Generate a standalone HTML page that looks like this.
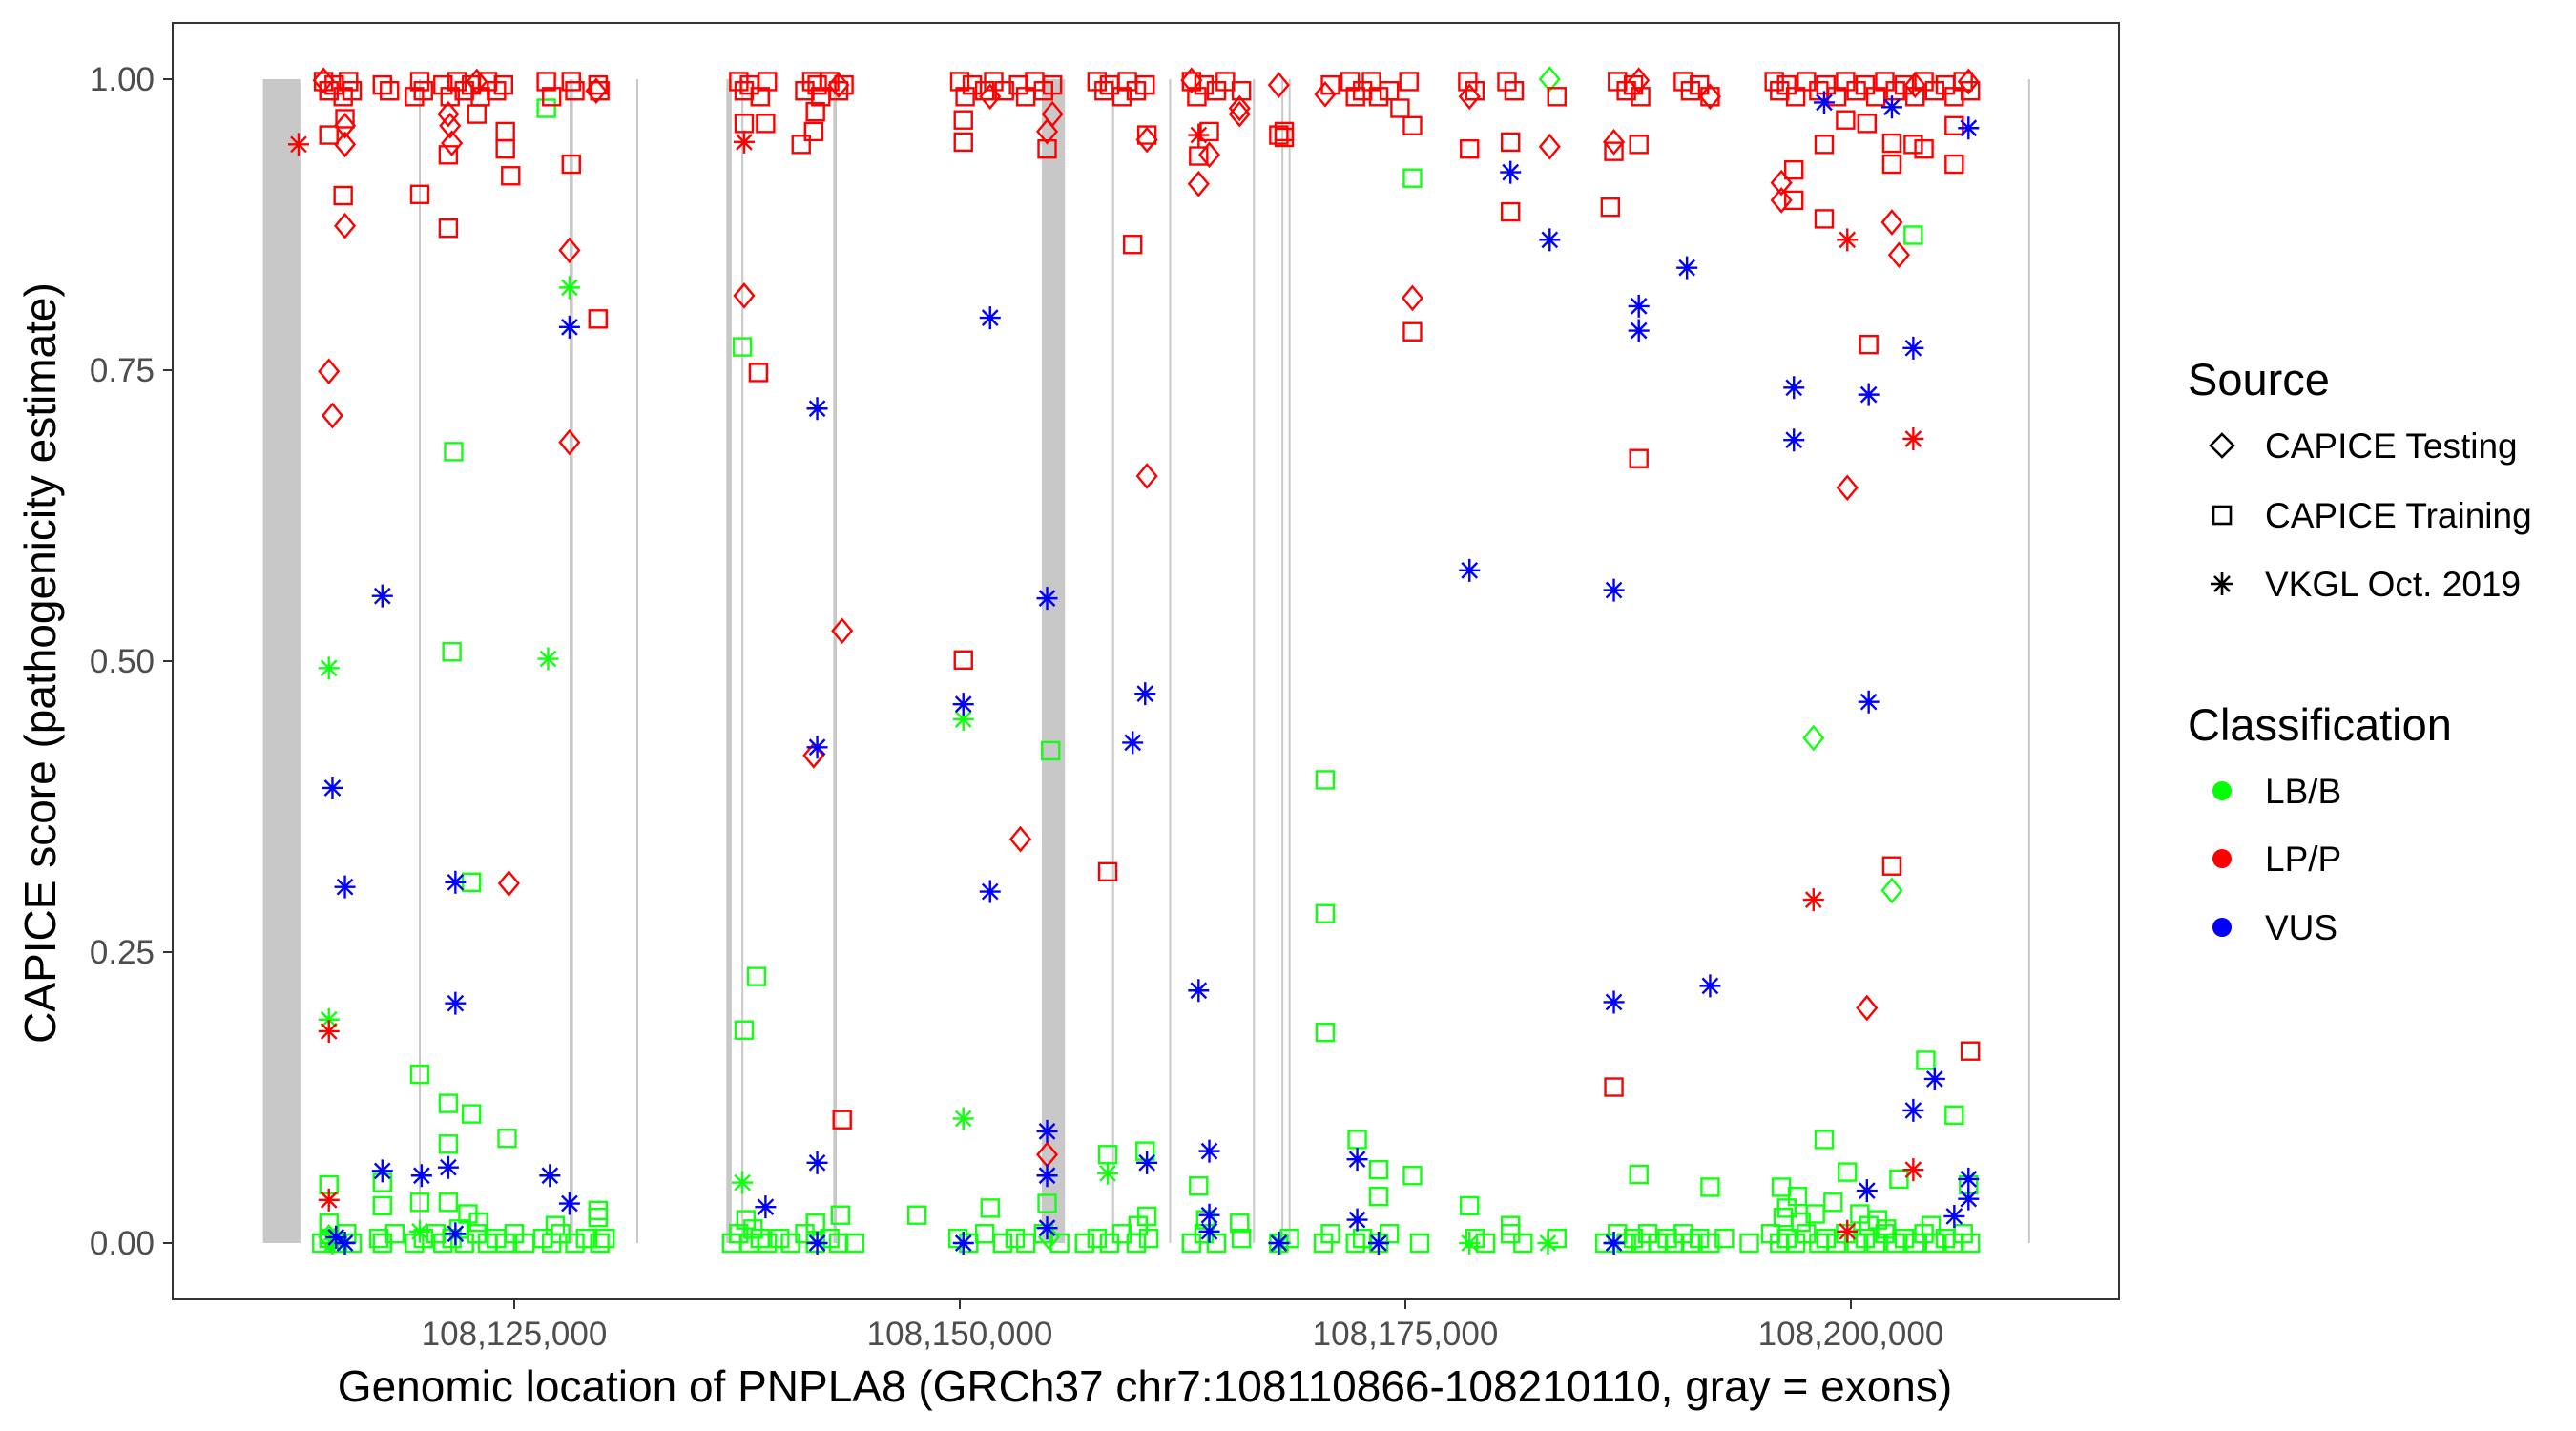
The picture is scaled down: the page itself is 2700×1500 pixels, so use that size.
<!DOCTYPE html>
<html><head><meta charset="utf-8"><title>PNPLA8 CAPICE</title>
<style>html,body{margin:0;padding:0;background:#fff}svg{display:block}text{font-family:"Liberation Sans",Arial,sans-serif}</style>
</head><body>
<svg id="chart" width="2700" height="1500" viewBox="0 0 2700 1500" xmlns="http://www.w3.org/2000/svg">
<rect x="0" y="0" width="2700" height="1500" fill="#fff"/>
<g id="exons"></g>
<g id="points"></g>
<rect x="181" y="24" width="2040" height="1338" fill="none" stroke="#333" stroke-width="2"/>
<g id="yaxis"></g>
<g id="xaxis"></g>
<text x="1200" y="1469" font-size="46" text-anchor="middle" fill="#000">Genomic location of PNPLA8 (GRCh37 chr7:108110866-108210110, gray = exons)</text>
<text transform="translate(58,695) rotate(-90)" font-size="46" text-anchor="middle" fill="#000">CAPICE score (pathogenicity estimate)</text>
<g id="legend">
<text x="2293" y="414" font-size="47" fill="#000">Source</text>
<path d="M2329 455 L2341 467 L2329 479 L2317 467 Z" fill="none" stroke="#000" stroke-width="2.6"/>
<text x="2374" y="480" font-size="37" fill="#000">CAPICE Testing</text>
<rect x="2320" y="531" width="18" height="18" fill="none" stroke="#000" stroke-width="2.6"/>
<text x="2374" y="553" font-size="37" fill="#000">CAPICE Training</text>
<path d="M2329 600 V624 M2317 612 H2341 M2321 604 L2337 620 M2337 604 L2321 620" stroke="#000" stroke-width="2.6"/>
<text x="2374" y="625" font-size="37" fill="#000">VKGL Oct. 2019</text>
<text x="2293" y="776" font-size="47" fill="#000">Classification</text>
<circle cx="2329" cy="829" r="10" fill="#00ff00"/>
<text x="2374" y="842" font-size="37" fill="#000">LB/B</text>
<circle cx="2329" cy="900" r="10" fill="#ff0000"/>
<text x="2374" y="913" font-size="37" fill="#000">LP/P</text>
<circle cx="2329" cy="972" r="10" fill="#0000ff"/>
<text x="2374" y="985" font-size="37" fill="#000">VUS</text>
</g>
</svg>
<script>
// positions are in kb offset from 108,000,000 (chr7)
const xTicks = [125, 150, 175, 200];
const xTickLabels = ["108,125,000", "108,150,000", "108,175,000", "108,200,000"];
const yTicks = [0, 0.25, 0.5, 0.75, 1];
const yTickLabels = ["0.00", "0.25", "0.50", "0.75", "1.00"];
const exonStarts = [110.9, 119.65, 128.1, 131.85, 136.9, 137.75, 142.9, 154.6, 158.55, 161.75, 166.45, 168.05, 168.45, 209.95];
const exonEnds   = [113.0, 119.75, 128.3, 131.95, 137.2, 137.85, 143.1, 155.9, 158.65, 161.85, 166.55, 168.15, 168.55, 210.05];

const trainingLP = [[114.3,.998],[114.6,.99],[114.9,.995],[115.4,.985],[115.7,.998],[115.9,.99],[117.6,.995],[118.0,.99],[119.4,.985],[119.7,.998],[119.9,.99],[121.0,.995],[121.4,.985],[121.8,.998],[122.2,.99],[122.6,.995],[123.1,.985],[123.5,.998],[124.0,.99],[124.4,.995],[126.8,.998],[127.1,.985],[128.2,.998],[128.4,.99],[129.7,.995],[129.8,.99],[137.6,.998],[137.9,.99],[138.2,.995],[138.8,.985],[139.2,.998],[141.3,.99],[141.7,.998],[142.0,.995],[142.2,.985],[142.7,.998],[143.2,.99],[143.5,.995],[150.0,.998],[150.3,.985],[150.7,.995],[151.4,.99],[151.9,.998],[152.5,.99],[153.3,.995],[153.7,.985],[154.2,.998],[154.7,.99],[155.2,.995],[157.7,.998],[158.1,.99],[158.4,.995],[159.1,.985],[159.4,.998],[159.9,.99],[160.4,.995],[163.0,.998],[163.3,.985],[163.7,.995],[164.4,.99],[164.9,.998],[165.8,.99],[168.2,.95],[168.2,.955],[170.8,.995],[171.9,.998],[172.2,.985],[172.6,.99],[173.1,.998],[173.5,.985],[174.1,.99],[174.7,.975],[175.2,.998],[175.4,.96],[178.5,.998],[178.9,.99],[180.7,.998],[181.1,.99],[183.5,.985],[186.9,.998],[187.4,.99],[187.8,.995],[188.2,.985],[190.6,.998],[191.0,.99],[191.5,.995],[192.1,.985],[195.7,.998],[196.0,.99],[196.4,.995],[196.9,.985],[197.5,.998],[198.2,.99],[198.6,.995],[199.2,.985],[199.7,.998],[200.3,.99],[200.8,.995],[201.4,.985],[201.9,.998],[202.5,.99],[203.0,.995],[203.6,.985],[204.1,.998],[204.7,.99],[205.3,.995],[205.8,.985],[206.3,.998],[206.7,.99],
[114.6,.952],[115.5,.966],[115.4,.90],[119.7,.901],[121.3,.872],[121.3,.935],[122.9,.97],[124.8,.917],[124.5,.94],[124.5,.955],[128.2,.927],[129.7,.794],[137.9,.962],[138.7,.748],[139.1,.962],[141.1,.944],[141.8,.955],[141.9,.972],[143.4,.106],[150.2,.946],[150.2,.965],[150.2,.501],[154.9,.94],[159.7,.858],[160.5,.952],[158.3,.319],[163.4,.934],[164.0,.955],[167.9,.952],[175.4,.783],[178.6,.94],[180.9,.886],[180.9,.946],[186.5,.89],[186.7,.938],[186.7,.134],[188.1,.674],[188.1,.944],[196.8,.922],[196.8,.896],[198.5,.944],[198.5,.88],[200.9,.962],[201.0,.772],[202.3,.945],[202.3,.927],[202.3,.324],[203.5,.944],[205.8,.927],[206.7,.165],[205.8,.96],[204.1,.94],[199.7,.965]];

const testingLP = [[114.3,.999],[115.5,.944],[115.5,.874],[114.6,.749],[114.8,.711],[115.5,.96],[121.4,.96],[121.5,.945],[121.3,.97],[122.9,.998],[124.7,.309],[128.1,.853],[128.1,.688],[129.6,.99],[137.9,.814],[141.8,.419],[143.4,.526],[143.2,.995],[151.7,.985],[153.4,.347],[154.9,.955],[154.9,.076],[155.2,.97],[160.5,.948],[160.5,.659],[163.4,.91],[164.0,.935],[165.7,.975],[163.0,.999],[167.9,.995],[170.5,.987],[175.4,.812],[178.6,.985],[183.1,.942],[186.7,.946],[188.1,.999],[192.1,.985],[196.1,.896],[196.1,.911],[199.8,.649],[200.9,.202],[202.3,.877],[202.7,.849],[203.6,.995],[206.6,.998],[165.7,.97]];

const testingLB = [[183.1,1.0],[197.9,.434],[202.3,.303],[155.0,.005],[114.6,.005]];

const vkglLP = [[112.9,.944],[114.6,.182],[114.6,.037],[137.9,.946],[163.4,.952],[197.9,.295],[199.8,.862],[199.8,.01],[203.5,.691],[203.5,.063]];

const vkglLB = [[114.6,.494],[114.6,.192],[128.1,.821],[126.9,.502],[137.8,.052],[150.2,.45],[150.2,.107],[158.3,.06],[119.7,.01],[114.8,0],[168.0,0],[178.6,0],[183.0,0],[173.5,0],[114.9,.003],[186.7,0]];

const vkglVUS = [[114.8,.391],[115.5,.306],[117.6,.556],[117.6,.062],[119.8,.058],[121.7,.31],[121.7,.206],[121.3,.065],[127.0,.058],[128.1,.034],[128.1,.787],[139.1,.031],[142.0,.717],[142.0,.426],[142.0,.069],[142.0,0],[150.2,.463],[151.7,.795],[151.7,.302],[150.2,0],[154.9,.554],[154.9,.096],[154.9,.058],[154.9,.013],[159.7,.43],[160.4,.472],[160.5,.069],[163.4,.217],[164.0,.079],[164.0,.024],[164.0,.01],[172.3,.072],[172.3,.02],[173.5,0],[178.6,.578],[180.9,.92],[183.1,.862],[186.7,.561],[186.7,.207],[186.7,0],[188.1,.805],[188.1,.784],[190.8,.838],[192.1,.221],[196.8,.735],[196.8,.69],[198.5,.98],[201.0,.729],[201.0,.465],[200.9,.045],[202.3,.976],[203.5,.769],[203.5,.114],[204.7,.141],[205.8,.023],[206.6,.958],[206.6,.055],[206.6,.038],[115.0,.005],[115.5,0],[121.7,.008],[167.9,0]];

const trainingLB = [[114.6,.05],[114.6,.017],[117.6,.052],[117.6,.032],[119.7,.145],[119.7,.035],[121.6,.68],[121.5,.508],[122.6,.31],[121.3,.12],[122.6,.111],[121.3,.085],[124.6,.09],[121.3,.035],[126.8,.975],[129.7,.028],[129.7,.022],[137.8,.77],[138.6,.229],[137.9,.183],[141.9,.017],[143.3,.024],[147.6,.024],[151.7,.03],[155.1,.423],[154.9,.034],[158.3,.076],[160.4,.079],[160.5,.023],[163.4,.049],[165.7,.017],[170.5,.398],[170.5,.283],[170.5,.181],[172.3,.089],[173.5,.063],[173.5,.04],[175.4,.915],[175.4,.058],[178.6,.032],[180.9,.015],[188.1,.059],[192.1,.048],[196.1,.048],[198.5,.089],[199.8,.061],[202.7,.055],[203.5,.866],[204.2,.157],[205.8,.11],[206.6,.05],[197.0,.04],[196.4,.03],[199.0,.035],[200.5,.025],[201.5,.02],[122.4,.025],[123.0,.018],[121.9,.012],[127.3,.015],[138.0,.02],[138.4,.012],[160.0,.015],[163.8,.02],[196.2,.022],[197.2,.018],[198.0,.025],[201.0,.015],[202.0,.012],[204.5,.015],
[114.2,0],[114.6,.004],[115.1,0],[115.6,.008],[115.9,0],[117.4,.004],[117.6,0],[118.3,.008],[119.4,0],[119.9,.004],[120.6,.008],[121.0,0],[121.5,.004],[122.2,0],[122.9,.008],[123.5,0],[124.0,.004],[124.5,0],[125.0,.008],[125.6,0],[126.6,.004],[127.1,0],[127.6,.008],[128.4,0],[129.0,.004],[129.8,0],[130.1,.004],[137.2,0],[137.6,.008],[138.2,0],[138.8,.004],[139.2,0],[139.9,.004],[140.5,0],[141.3,.008],[141.9,0],[142.7,.004],[143.2,0],[144.1,0],[149.9,.004],[150.5,0],[151.4,.008],[152.4,0],[153.1,.004],[153.7,0],[154.7,.008],[155.6,0],[157.0,0],[157.7,.004],[158.4,0],[159.1,.008],[159.9,0],[160.6,.004],[163.0,0],[163.7,.008],[164.4,0],[165.8,.004],[167.9,0],[168.5,.004],[170.4,0],[170.8,.008],[172.2,0],[172.6,.004],[173.5,0],[174.1,.008],[175.8,0],[178.9,.004],[179.5,0],[180.9,.008],[181.6,0],[183.5,.004],[186.2,0],[186.9,.008],[187.4,0],[187.8,.004],[188.2,0],[188.6,.008],[189.2,0],[189.7,.004],[190.1,0],[190.6,.008],[191.0,0],[191.5,.004],[192.1,0],[192.9,.004],[194.3,0],[195.5,.008],[196.0,0],[196.4,.004],[196.9,0],[197.5,.008],[198.2,0],[198.6,.004],[199.2,0],[199.7,.008],[200.3,0],[200.8,.004],[201.4,0],[201.9,.008],[202.5,0],[203.0,.004],[203.6,0],[204.1,.008],[204.7,0],[205.3,.004],[205.8,0],[206.3,.008],[206.7,0]];

const NS = "http://www.w3.org/2000/svg";
function xScale(kb){ return 539 + (kb - 125) * 18.68; }
function yScale(s){ return 1303 - s * 1220; }
function mk(tag, attrs){ const e = document.createElementNS(NS, tag); for (const k in attrs) e.setAttribute(k, attrs[k]); return e; }

const gEx = document.getElementById('exons');
exonStarts.forEach((s, i) => {
  const x0 = xScale(s), x1 = xScale(exonEnds[i]);
  const w = Math.max(2, x1 - x0);
  const r = mk('rect', {x: x0, y: yScale(1), width: w, height: yScale(0) - yScale(1), fill: '#c8c8c8'});
  
  
  gEx.appendChild(r);
});

const gy = document.getElementById('yaxis');
yTicks.forEach((v, i) => {
  const y = yScale(v);
  const t = mk('line', {x1: 171, x2: 181, y1: y, y2: y, stroke: '#333', 'stroke-width': 2});
  
  
  gy.appendChild(t);
  const lb = mk('text', {x: 162, y: y + 12, 'font-size': 35, 'text-anchor': 'end', fill: '#4d4d4d'});
  lb.textContent = yTickLabels[i];
  
  
  gy.appendChild(lb);
});
const gx = document.getElementById('xaxis');
xTicks.forEach((v, i) => {
  const x = xScale(v);
  const t = mk('line', {x1: x, x2: x, y1: 1362, y2: 1372, stroke: '#333', 'stroke-width': 2});
  
  
  gx.appendChild(t);
  const lb = mk('text', {x: x, y: 1410, 'font-size': 35, 'text-anchor': 'middle', fill: '#4d4d4d'});
  lb.textContent = xTickLabels[i];
  
  
  gx.appendChild(lb);
});

const gp = document.getElementById('points');
function drawSeries(data, shape, color, name){
  data.forEach(d => {
    const x = xScale(d[0]), y = yScale(d[1]);
    let el;
    if (shape === 'square') {
      el = mk('rect', {x: x - 9, y: y - 9, width: 18, height: 18, fill: 'none', stroke: color, 'stroke-width': 2.4});
    } else if (shape === 'diamond') {
      el = mk('path', {d: `M${x} ${y-12} L${x+10} ${y} L${x} ${y+12} L${x-10} ${y} Z`, fill: 'none', stroke: color, 'stroke-width': 2.4});
    } else {
      el = mk('path', {d: `M${x} ${y-12} V${y+12} M${x-11} ${y} H${x+11} M${x-8} ${y-8} L${x+8} ${y+8} M${x+8} ${y-8} L${x-8} ${y+8}`, stroke: color, 'stroke-width': 2.4, fill: 'none'});
    }
    
    
    gp.appendChild(el);
  });
}
const GREEN = '#11ff11', RED = '#ff0000', BLUE = '#0000ff';
drawSeries(trainingLB, 'square', GREEN, 'point-training-lbb');
drawSeries(testingLB, 'diamond', GREEN, 'point-testing-lbb');
drawSeries(vkglLB, 'star', GREEN, 'point-vkgl-lbb');
drawSeries(trainingLP, 'square', RED, 'point-training-lpp');
drawSeries(testingLP, 'diamond', RED, 'point-testing-lpp');
drawSeries(vkglLP, 'star', RED, 'point-vkgl-lpp');
drawSeries(vkglVUS, 'star', BLUE, 'point-vkgl-vus');
</script>
</body></html>
